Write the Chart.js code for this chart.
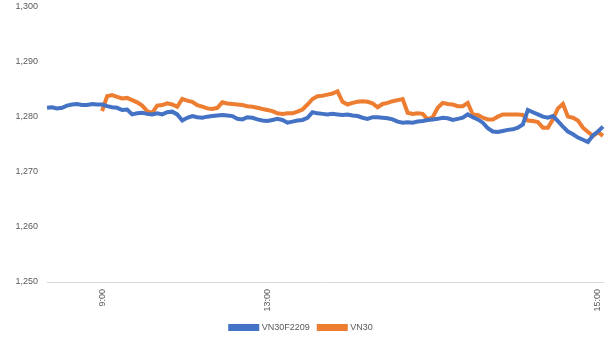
<!DOCTYPE html>
<html>
<head>
<meta charset="utf-8">
<script src="https://cdn.jsdelivr.net/npm/chart.js@4/dist/chart.umd.min.js"></script>
<style>
  html, body { margin: 0; padding: 0; background: #fff; }
  #wrap { width: 610px; height: 346px; }
</style>
</head>
<body>
<div id="wrap"><canvas id="chart" width="610" height="346"></canvas></div>
<script>
// series, one value per sample step
const futures = [
  1281.6, 1281.7, 1281.5, 1281.6, 1282.0, 1282.2, 1282.3, 1282.1, 1282.1, 1282.3,
  1282.2, 1282.2, 1281.9, 1281.7, 1281.6, 1281.2, 1281.3, 1280.4, 1280.6, 1280.7,
  1280.5, 1280.4, 1280.6, 1280.4, 1280.8, 1280.9, 1280.4, 1279.3, 1279.8, 1280.1,
  1279.9, 1279.8, 1280.0, 1280.1, 1280.2, 1280.3, 1280.2, 1280.1, 1279.6, 1279.5,
  1279.9, 1279.8, 1279.5, 1279.3, 1279.2, 1279.4, 1279.6, 1279.4, 1278.9, 1279.1,
  1279.3, 1279.4, 1279.8, 1280.8, 1280.6, 1280.5, 1280.4, 1280.5, 1280.4, 1280.3,
  1280.4, 1280.2, 1280.1, 1279.8, 1279.6, 1279.9, 1279.9, 1279.8, 1279.7, 1279.5,
  1279.1, 1278.9, 1279.0, 1278.9, 1279.1, 1279.2, 1279.4, 1279.5, 1279.6, 1279.8,
  1279.7, 1279.4, 1279.6, 1279.8, 1280.4, 1279.9, 1279.5, 1278.9, 1277.9, 1277.3,
  1277.2, 1277.4, 1277.6, 1277.7, 1278.0, 1278.6, 1281.2, 1280.8, 1280.4, 1280.0,
  1279.8, 1280.1, 1279.2, 1278.2, 1277.3, 1276.8, 1276.2, 1275.8, 1275.4, 1276.6,
  1277.3, 1278.2
];

const vn30 = [
  null, null, null, null, null, null, null, null, null, null,
  null, 1281.0, 1283.7, 1283.9, 1283.6, 1283.3, 1283.4, 1283.0, 1282.6, 1282.0,
  1281.0, 1280.7, 1282.0, 1282.1, 1282.4, 1282.2, 1281.8, 1283.2, 1282.9, 1282.7,
  1282.1, 1281.8, 1281.5, 1281.4, 1281.6, 1282.6, 1282.4, 1282.3, 1282.2, 1282.1,
  1281.9, 1281.8, 1281.6, 1281.4, 1281.2, 1281.0, 1280.6, 1280.5, 1280.6, 1280.6,
  1280.9, 1281.3, 1282.2, 1283.2, 1283.7, 1283.8, 1284.0, 1284.2, 1284.6, 1282.7,
  1282.2, 1282.5, 1282.7, 1282.8, 1282.7, 1282.4, 1281.7, 1282.3, 1282.5, 1282.8,
  1283.0, 1283.2, 1280.7, 1280.5, 1280.6, 1280.5, 1279.5, 1279.9, 1281.6, 1282.5,
  1282.3, 1282.2, 1281.9, 1281.9, 1282.5, 1280.4, 1280.3, 1279.8, 1279.5, 1279.5,
  1280.0, 1280.4, 1280.4, 1280.4, 1280.4, 1280.3, 1279.3, 1279.2, 1279.0, 1278.0,
  1278.0, 1279.5, 1281.5, 1282.3, 1280.0, 1279.8, 1279.3, 1278.0, 1277.2, 1276.5,
  1277.2, 1276.5
];

const tickLabels = ['9:00', '13:00', '15:00'];
const tickIndex = [11, 44, 110];

const seriesNames = ['VN30F2209', 'VN30'];

// build the category labels: blank except where a time is shown
const labels = futures.map(() => '');
tickIndex.forEach((idx, k) => { labels[idx] = tickLabels[k]; });

Chart.defaults.font.family = '"Liberation Sans", Arial, sans-serif';
Chart.defaults.font.size = 9;
Chart.defaults.color = '#595959';

const ctx = document.getElementById('chart').getContext('2d');
new Chart(ctx, {
  type: 'line',
  data: {
    labels: labels,
    datasets: [{
      label: seriesNames[0],
      data: futures,
      borderColor: '#4472C4',
      backgroundColor: '#4472C4',
      borderWidth: 4,
      pointRadius: 0,
      tension: 0
    }, {
      label: seriesNames[1],
      data: vn30,
      borderColor: '#ED7D31',
      backgroundColor: '#ED7D31',
      borderWidth: 4,
      pointRadius: 0,
      tension: 0
    }]
  },
  options: {
    responsive: false,
    animation: false,
    layout: { padding: { top: 0, right: 7, bottom: 4, left: 0 } },
    plugins: {
      legend: {
        position: 'bottom',
        labels: {
          boxWidth: 27,
          boxHeight: 3,
          padding: 9,
          color: '#595959'
        }
      },
      tooltip: { enabled: false }
    },
    scales: {
      x: {
        grid: { display: false, tickLength: 6 },
        border: { display: true, color: '#d9d9d9', width: 1 },
        ticks: {
          autoSkip: false,
          minRotation: 90,
          maxRotation: 90,
          padding: 1,
          callback: function(value, index) { return labels[index]; }
        },
        afterFit: function(scale) {
          scale.height = 32;
          scale.paddingLeft = 0;
          scale.paddingRight = 0;
        }
      },
      y: {
        min: 1250,
        max: 1300,
        grid: { display: false, tickLength: 8 },
        border: { display: false },
        ticks: { stepSize: 10, padding: 1 },
        afterFit: function(scale) { scale.width = 47; }
      }
    }
  }
});
</script>
</body>
</html>
